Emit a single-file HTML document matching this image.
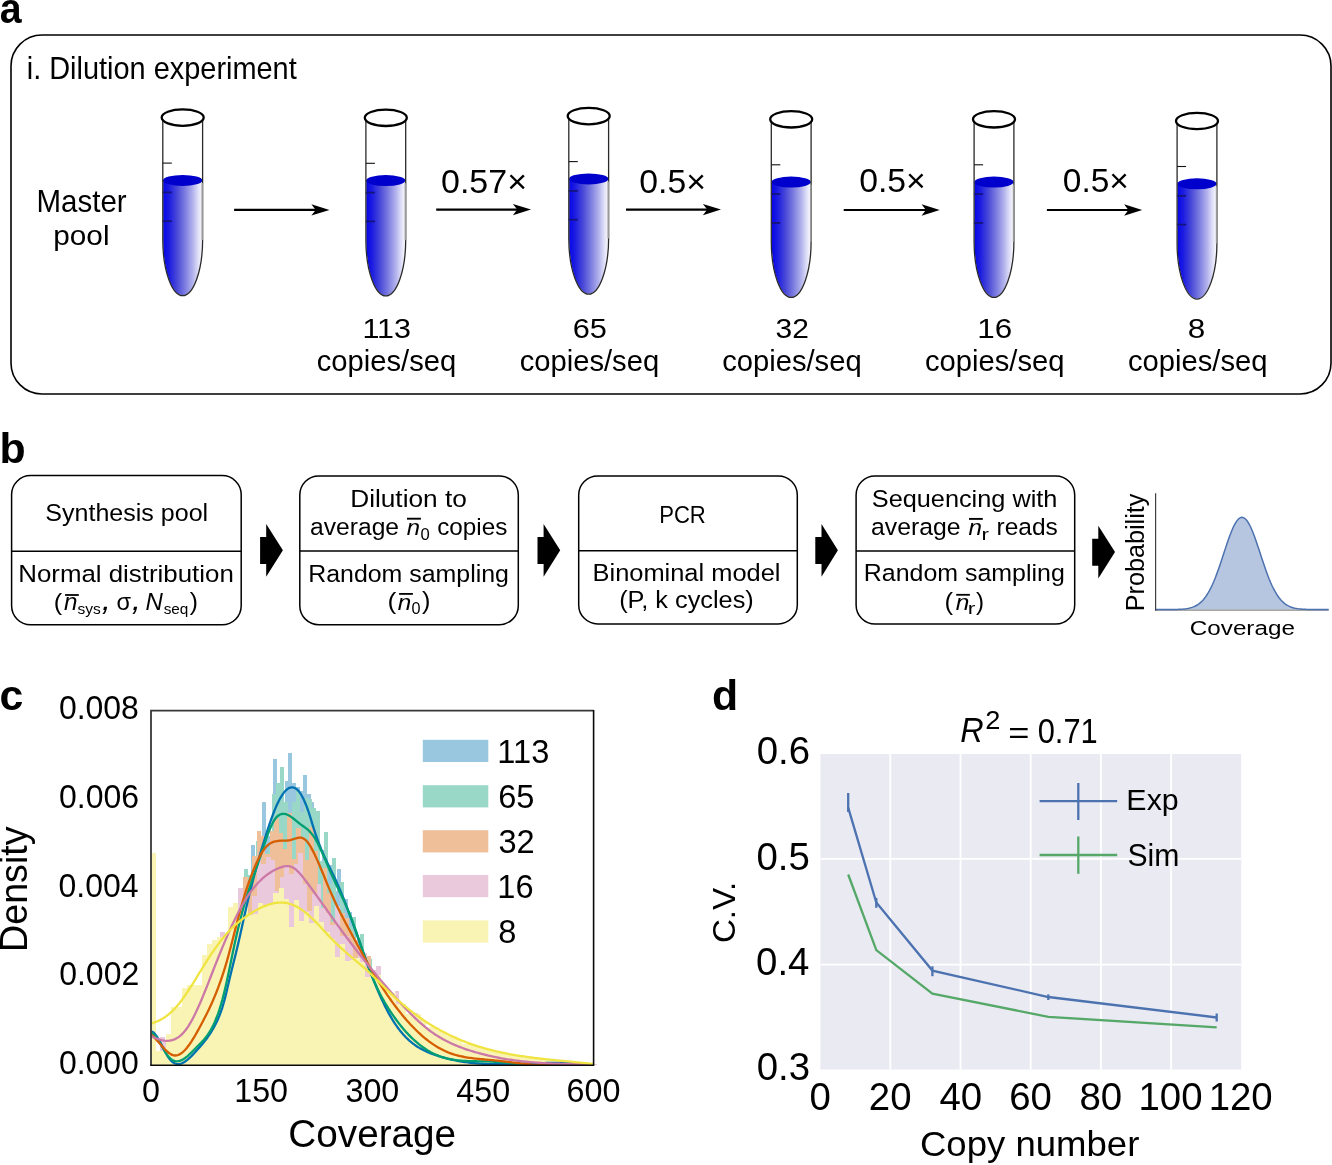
<!DOCTYPE html><html><head><meta charset="utf-8"><title>Figure</title><style>html,body{margin:0;padding:0;background:#fff}svg{display:block;will-change:transform}text{font-family:"Liberation Sans",sans-serif}</style></head><body>
<svg width="1332" height="1165" viewBox="0 0 1332 1165">
<defs>
<linearGradient id="liq" x1="0" x2="1" y1="0" y2="0">
<stop offset="0" stop-color="#0606ea"/><stop offset="0.15" stop-color="#1c1ce2"/><stop offset="0.35" stop-color="#4848d8"/>
<stop offset="0.55" stop-color="#7a7ae0"/><stop offset="0.75" stop-color="#b0b0ec"/><stop offset="0.9" stop-color="#e0e0f8"/><stop offset="1" stop-color="#fafaff"/>
</linearGradient></defs>
<rect width="1332" height="1165" fill="#fff"/>
<text transform="translate(-0.18,22.98) scale(1,1.099)" font-size="39.25" font-weight="bold">a</text>
<rect x="11" y="35" width="1320" height="359" rx="31" ry="31" fill="none" stroke="#000" stroke-width="1.6"/>
<text transform="translate(26.72,78.6) scale(1,1.062)" font-size="28.93" fill="#000">i. Dilution experiment</text>
<text transform="translate(36.54,211.8) scale(1,1.056)" font-size="29.49" fill="#000">Master</text>
<text transform="translate(53.26,244.8) scale(1,0.954)" font-size="29.77" fill="#000">pool</text>
<path d="M163.2,180.5 L163.2,240 C163.2,271 172.2,295.3 182.7,295.3 C193.2,295.3 202.2,271 202.2,240 L202.2,180.5 Z" fill="url(#liq)"/>
<ellipse cx="182.7" cy="180.4" rx="19.7" ry="5.5" fill="#0000cc"/>
<path d="M162.8,118 L162.8,240 C162.8,271 172.2,295.7 182.7,295.7 C193.2,295.7 202.6,271 202.6,240 L202.6,118" fill="none" stroke="#2a2a2a" stroke-width="1.3"/>
<line x1="202.3" y1="183" x2="202.3" y2="240" stroke="#9a9a9a" stroke-width="1.6"/>
<line x1="162.8" y1="163.1" x2="171.8" y2="163.1" stroke="#111" stroke-width="1.1"/>
<line x1="162.8" y1="192.4" x2="171.8" y2="192.4" stroke="#14147a" stroke-width="1.8"/>
<line x1="162.8" y1="221.2" x2="171.8" y2="221.2" stroke="#14147a" stroke-width="1.8"/>
<ellipse cx="182.7" cy="117.6" rx="21.0" ry="8.2" fill="#fff" stroke="#000" stroke-width="2.3"/>
<path d="M366.3,180.7 L366.3,240.2 C366.3,271.2 375.3,295.5 385.8,295.5 C396.3,295.5 405.3,271.2 405.3,240.2 L405.3,180.7 Z" fill="url(#liq)"/>
<ellipse cx="385.8" cy="180.6" rx="19.7" ry="5.5" fill="#0000cc"/>
<path d="M365.9,118.2 L365.9,240.2 C365.9,271.2 375.3,295.9 385.8,295.9 C396.3,295.9 405.7,271.2 405.7,240.2 L405.7,118.2" fill="none" stroke="#2a2a2a" stroke-width="1.3"/>
<line x1="405.4" y1="183.2" x2="405.4" y2="240.2" stroke="#9a9a9a" stroke-width="1.6"/>
<line x1="365.9" y1="163.3" x2="374.9" y2="163.3" stroke="#111" stroke-width="1.1"/>
<line x1="365.9" y1="192.6" x2="374.9" y2="192.6" stroke="#14147a" stroke-width="1.8"/>
<line x1="365.9" y1="221.4" x2="374.9" y2="221.4" stroke="#14147a" stroke-width="1.8"/>
<ellipse cx="385.8" cy="117.8" rx="21.0" ry="8.2" fill="#fff" stroke="#000" stroke-width="2.3"/>
<path d="M569.2,179 L569.2,238.5 C569.2,269.5 578.2,293.8 588.7,293.8 C599.2,293.8 608.2,269.5 608.2,238.5 L608.2,179 Z" fill="url(#liq)"/>
<ellipse cx="588.7" cy="178.9" rx="19.7" ry="5.5" fill="#0000cc"/>
<path d="M568.8,116.5 L568.8,238.5 C568.8,269.5 578.2,294.2 588.7,294.2 C599.2,294.2 608.6,269.5 608.6,238.5 L608.6,116.5" fill="none" stroke="#2a2a2a" stroke-width="1.3"/>
<line x1="608.3" y1="181.5" x2="608.3" y2="238.5" stroke="#9a9a9a" stroke-width="1.6"/>
<line x1="568.8" y1="161.6" x2="577.8" y2="161.6" stroke="#111" stroke-width="1.1"/>
<line x1="568.8" y1="190.9" x2="577.8" y2="190.9" stroke="#14147a" stroke-width="1.8"/>
<line x1="568.8" y1="219.7" x2="577.8" y2="219.7" stroke="#14147a" stroke-width="1.8"/>
<ellipse cx="588.7" cy="116.1" rx="21.0" ry="8.2" fill="#fff" stroke="#000" stroke-width="2.3"/>
<path d="M771.7,182.2 L771.7,241.7 C771.7,272.7 780.7,297 791.2,297 C801.7,297 810.7,272.7 810.7,241.7 L810.7,182.2 Z" fill="url(#liq)"/>
<ellipse cx="791.2" cy="182.1" rx="19.7" ry="5.5" fill="#0000cc"/>
<path d="M771.3,119.7 L771.3,241.7 C771.3,272.7 780.7,297.4 791.2,297.4 C801.7,297.4 811.1,272.7 811.1,241.7 L811.1,119.7" fill="none" stroke="#2a2a2a" stroke-width="1.3"/>
<line x1="810.8" y1="184.7" x2="810.8" y2="241.7" stroke="#9a9a9a" stroke-width="1.6"/>
<line x1="771.3" y1="164.8" x2="780.3" y2="164.8" stroke="#111" stroke-width="1.1"/>
<line x1="771.3" y1="194.1" x2="780.3" y2="194.1" stroke="#14147a" stroke-width="1.8"/>
<line x1="771.3" y1="222.9" x2="780.3" y2="222.9" stroke="#14147a" stroke-width="1.8"/>
<ellipse cx="791.2" cy="119.3" rx="21.0" ry="8.2" fill="#fff" stroke="#000" stroke-width="2.3"/>
<path d="M974.5,182.2 L974.5,241.7 C974.5,272.7 983.5,297 994,297 C1004.5,297 1013.5,272.7 1013.5,241.7 L1013.5,182.2 Z" fill="url(#liq)"/>
<ellipse cx="994" cy="182.1" rx="19.7" ry="5.5" fill="#0000cc"/>
<path d="M974.1,119.7 L974.1,241.7 C974.1,272.7 983.5,297.4 994,297.4 C1004.5,297.4 1013.9,272.7 1013.9,241.7 L1013.9,119.7" fill="none" stroke="#2a2a2a" stroke-width="1.3"/>
<line x1="1013.6" y1="184.7" x2="1013.6" y2="241.7" stroke="#9a9a9a" stroke-width="1.6"/>
<line x1="974.1" y1="164.8" x2="983.1" y2="164.8" stroke="#111" stroke-width="1.1"/>
<line x1="974.1" y1="194.1" x2="983.1" y2="194.1" stroke="#14147a" stroke-width="1.8"/>
<line x1="974.1" y1="222.9" x2="983.1" y2="222.9" stroke="#14147a" stroke-width="1.8"/>
<ellipse cx="994" cy="119.3" rx="21.0" ry="8.2" fill="#fff" stroke="#000" stroke-width="2.3"/>
<path d="M1177.5,183.9 L1177.5,243.4 C1177.5,274.4 1186.5,298.7 1197,298.7 C1207.5,298.7 1216.5,274.4 1216.5,243.4 L1216.5,183.9 Z" fill="url(#liq)"/>
<ellipse cx="1197" cy="183.8" rx="19.7" ry="5.5" fill="#0000cc"/>
<path d="M1177.1,121.4 L1177.1,243.4 C1177.1,274.4 1186.5,299.1 1197,299.1 C1207.5,299.1 1216.9,274.4 1216.9,243.4 L1216.9,121.4" fill="none" stroke="#2a2a2a" stroke-width="1.3"/>
<line x1="1216.6" y1="186.4" x2="1216.6" y2="243.4" stroke="#9a9a9a" stroke-width="1.6"/>
<line x1="1177.1" y1="166.5" x2="1186.1" y2="166.5" stroke="#111" stroke-width="1.1"/>
<line x1="1177.1" y1="195.8" x2="1186.1" y2="195.8" stroke="#14147a" stroke-width="1.8"/>
<line x1="1177.1" y1="224.6" x2="1186.1" y2="224.6" stroke="#14147a" stroke-width="1.8"/>
<ellipse cx="1197" cy="121" rx="21.0" ry="8.2" fill="#fff" stroke="#000" stroke-width="2.3"/>
<line x1="234.1" y1="209.9" x2="316.5" y2="209.9" stroke="#000" stroke-width="2.2"/>
<path d="M329.5,209.9 L311.4,204.2 L315.7,209.9 L311.4,215.6 Z" fill="#000"/>
<line x1="436.2" y1="209.6" x2="518" y2="209.6" stroke="#000" stroke-width="2.2"/>
<path d="M531,209.6 L512.9,203.9 L517.2,209.6 L512.9,215.3 Z" fill="#000"/>
<line x1="626" y1="209.6" x2="708" y2="209.6" stroke="#000" stroke-width="2.2"/>
<path d="M721,209.6 L702.9,203.9 L707.2,209.6 L702.9,215.3 Z" fill="#000"/>
<line x1="843.7" y1="210" x2="926.7" y2="210" stroke="#000" stroke-width="2.2"/>
<path d="M939.7,210 L921.6,204.3 L925.9,210 L921.6,215.7 Z" fill="#000"/>
<line x1="1046.9" y1="210" x2="1129.2" y2="210" stroke="#000" stroke-width="2.2"/>
<path d="M1142.2,210 L1124.1,204.3 L1128.4,210 L1124.1,215.7 Z" fill="#000"/>
<text transform="translate(441.04,192.7) scale(1,0.997)" font-size="33.97" fill="#000">0.57×</text>
<text transform="translate(639.25,192.7) scale(1,1.002)" font-size="33.78" fill="#000">0.5×</text>
<text transform="translate(859.15,192.2) scale(1,1.002)" font-size="33.78" fill="#000">0.5×</text>
<text transform="translate(1062.86,192.1) scale(1,1.012)" font-size="33.46" fill="#000">0.5×</text>
<text transform="translate(362.41,337.96) scale(1,0.907)" font-size="30.51">113</text>
<text transform="translate(316.78,370.6) scale(1,0.989)" font-size="29.20" fill="#000">copies/seq</text>
<text transform="translate(572.66,337.96) scale(1,0.898)" font-size="30.78">65</text>
<text transform="translate(519.68,370.6) scale(1,0.989)" font-size="29.20" fill="#000">copies/seq</text>
<text transform="translate(775.6,337.96) scale(1,0.922)" font-size="30.00">32</text>
<text transform="translate(722.18,370.6) scale(1,0.989)" font-size="29.20" fill="#000">copies/seq</text>
<text transform="translate(977.24,337.96) scale(1,0.880)" font-size="31.41">16</text>
<text transform="translate(924.98,370.6) scale(1,0.989)" font-size="29.20" fill="#000">copies/seq</text>
<text transform="translate(1187.68,337.96) scale(1,0.878)" font-size="31.49">8</text>
<text transform="translate(1127.98,370.6) scale(1,0.989)" font-size="29.20" fill="#000">copies/seq</text>
<text transform="translate(-0.58,462.8) scale(1,1.000)" font-size="42.80" font-weight="bold" fill="#000">b</text>
<rect x="11.6" y="475.6" width="229.6" height="149.2" rx="19" ry="19" fill="none" stroke="#000" stroke-width="1.5"/>
<line x1="11.6" y1="551.3" x2="241.2" y2="551.3" stroke="#000" stroke-width="1.5"/>
<rect x="299.8" y="475.9" width="218.5" height="148.8" rx="19" ry="19" fill="none" stroke="#000" stroke-width="1.5"/>
<line x1="299.8" y1="551.1" x2="518.3" y2="551.1" stroke="#000" stroke-width="1.5"/>
<rect x="578.7" y="476" width="218.6" height="147.9" rx="19" ry="19" fill="none" stroke="#000" stroke-width="1.5"/>
<line x1="578.7" y1="550.8" x2="797.3" y2="550.8" stroke="#000" stroke-width="1.5"/>
<rect x="856.1" y="476" width="218.6" height="148" rx="19" ry="19" fill="none" stroke="#000" stroke-width="1.5"/>
<line x1="856.1" y1="551" x2="1074.7" y2="551" stroke="#000" stroke-width="1.5"/>
<path d="M260.1,537 L266.2,537 L266.2,523.9 L282.9,550.3 L266.2,576.7 L266.2,564 L260.1,564 Z" fill="#000"/>
<path d="M537.5,537 L543.6,537 L543.6,523.9 L560.2,550.3 L543.6,576.7 L543.6,564 L537.5,564 Z" fill="#000"/>
<path d="M815.3,537 L821.5,537 L821.5,523.9 L837.9,550.3 L821.5,576.7 L821.5,564 L815.3,564 Z" fill="#000"/>
<path d="M1092.2,538.8 L1098.3,538.8 L1098.3,525.7 L1115,552.1 L1098.3,578.5 L1098.3,565.8 L1092.2,565.8 Z" fill="#000"/>
<text transform="translate(45.37,521.1) scale(1,0.955)" font-size="25.04" fill="#000">Synthesis pool</text>
<text transform="translate(18.23,582.2) scale(1,0.924)" font-size="25.87" fill="#000">Normal distribution</text>
<text transform="translate(350.2,507.1) scale(1,0.911)" font-size="26.24" fill="#000">Dilution to</text>
<text transform="translate(308.21,581.8) scale(1,0.960)" font-size="24.91" fill="#000">Random sampling</text>
<text transform="translate(659.23,523) scale(1,1.084)" font-size="22.07" fill="#000">PCR</text>
<text transform="translate(592.57,581) scale(1,0.941)" font-size="25.42" fill="#000">Binominal model</text>
<text transform="translate(619.18,608.3) scale(1,0.944)" font-size="25.33" fill="#000">(P, k cycles)</text>
<text transform="translate(871.76,507) scale(1,0.945)" font-size="25.31" fill="#000">Sequencing with</text>
<text transform="translate(863.8,581) scale(1,0.958)" font-size="24.95" fill="#000">Random sampling</text>
<text transform="translate(53.68,609.88) scale(1,0.948)" font-size="25.28">(</text>
<text transform="translate(64.04,609.92) scale(1,0.971)" font-size="24.24" font-style="italic">n</text>
<line x1="65.1" y1="595" x2="78.8" y2="595" stroke="#000" stroke-width="1.8"/>
<text transform="translate(77.43,613.95) scale(1,0.957)" font-size="15.54">sys</text>
<text transform="translate(101.63,610.1) scale(1,0.907)" font-size="33.57" font-style="italic">,</text>
<text transform="translate(116.46,609.88) scale(1,0.991)" font-size="23.57">σ</text>
<text transform="translate(131.63,610) scale(1,0.881)" font-size="33.57" font-style="italic">,</text>
<text transform="translate(145.38,609.72) scale(1,1.001)" font-size="24.06" font-style="italic">N</text>
<text transform="translate(163.64,613.65) scale(1,0.969)" font-size="15.38">seq</text>
<text transform="translate(189.85,609.68) scale(1,0.935)" font-size="24.62">)</text>
<text transform="translate(310.01,534.8) scale(1,0.972)" font-size="24.65" fill="#000">average</text>
<text transform="translate(406.64,534.91) scale(1,0.941)" font-size="23.84" font-style="italic">n</text>
<line x1="407" y1="518.7" x2="420.9" y2="518.7" stroke="#000" stroke-width="1.9"/>
<text transform="translate(420.43,539.62) scale(1,0.964)" font-size="16.63">0</text>
<text transform="translate(437.23,534.8) scale(1,0.988)" font-size="24.26" fill="#000">copies</text>
<text transform="translate(387.42,609.26) scale(1,0.875)" font-size="26.42">(</text>
<text transform="translate(397.64,609.91) scale(1,0.948)" font-size="24.24" font-style="italic">n</text>
<line x1="399.1" y1="593.9" x2="412.9" y2="593.9" stroke="#000" stroke-width="1.8"/>
<text transform="translate(411.55,614.32) scale(1,0.971)" font-size="16.21">0</text>
<text transform="translate(422.05,609.26) scale(1,0.911)" font-size="25.38">)</text>
<text transform="translate(871.01,534.5) scale(1,0.968)" font-size="24.76" fill="#000">average</text>
<text transform="translate(968.44,534.61) scale(1,0.948)" font-size="24.24" font-style="italic">n</text>
<line x1="969" y1="518.9" x2="982.8" y2="518.9" stroke="#000" stroke-width="1.9"/>
<text transform="translate(981.54,539.58) scale(1,0.709)" font-size="22.40">r</text>
<text transform="translate(996.5,534.5) scale(1,0.976)" font-size="24.54" fill="#000">reads</text>
<text transform="translate(944.46,609.88) scale(1,0.934)" font-size="25.66">(</text>
<text transform="translate(955.63,609.91) scale(1,0.941)" font-size="24.44" font-style="italic">n</text>
<line x1="956.2" y1="594.8" x2="969.9" y2="594.8" stroke="#000" stroke-width="1.8"/>
<text transform="translate(967.72,614.48) scale(1,0.689)" font-size="22.80">r</text>
<text transform="translate(975.96,609.88) scale(1,0.990)" font-size="24.23">)</text>
<polygon points="1155.6,609.6 1155.6,609.6 1157.05,609.6 1158.51,609.6 1159.96,609.6 1161.42,609.59 1162.87,609.59 1164.33,609.59 1165.78,609.58 1167.24,609.58 1168.69,609.57 1170.15,609.56 1171.6,609.54 1173.06,609.52 1174.51,609.5 1175.96,609.46 1177.42,609.42 1178.87,609.36 1180.33,609.28 1181.78,609.19 1183.24,609.07 1184.69,608.91 1186.15,608.72 1187.6,608.49 1189.06,608.2 1190.51,607.84 1191.97,607.4 1193.42,606.88 1194.87,606.25 1196.33,605.5 1197.78,604.62 1199.24,603.58 1200.69,602.37 1202.15,600.98 1203.6,599.39 1205.06,597.57 1206.51,595.52 1207.97,593.23 1209.42,590.68 1210.88,587.87 1212.33,584.8 1213.78,581.48 1215.24,577.91 1216.69,574.12 1218.15,570.12 1219.6,565.95 1221.06,561.65 1222.51,557.24 1223.97,552.8 1225.42,548.37 1226.88,544 1228.33,539.77 1229.79,535.73 1231.24,531.95 1232.69,528.49 1234.15,525.41 1235.6,522.77 1237.06,520.6 1238.51,518.96 1239.97,517.87 1241.42,517.35 1242.88,517.41 1244.33,518.05 1245.79,519.25 1247.24,521.01 1248.7,523.28 1250.15,526.02 1251.61,529.18 1253.06,532.71 1254.51,536.54 1255.97,540.63 1257.42,544.89 1258.88,549.28 1260.33,553.72 1261.79,558.16 1263.24,562.54 1264.7,566.83 1266.15,570.96 1267.61,574.92 1269.06,578.67 1270.52,582.19 1271.97,585.46 1273.42,588.47 1274.88,591.22 1276.33,593.72 1277.79,595.96 1279.24,597.96 1280.7,599.73 1282.15,601.29 1283.61,602.64 1285.06,603.81 1286.52,604.81 1287.97,605.67 1289.43,606.39 1290.88,606.99 1292.33,607.5 1293.79,607.92 1295.24,608.26 1296.7,608.54 1298.15,608.77 1299.61,608.95 1301.06,609.09 1302.52,609.21 1303.97,609.3 1305.43,609.37 1306.88,609.43 1308.34,609.47 1309.79,609.5 1311.24,609.53 1312.7,609.55 1314.15,609.56 1315.61,609.57 1317.06,609.58 1318.52,609.59 1319.97,609.59 1321.43,609.59 1322.88,609.59 1324.34,609.6 1325.79,609.6 1327.25,609.6 1328.7,609.6 1328.7,609.6" fill="#b7c6e0"/>
<line x1="1155.6" y1="610.2" x2="1328.7" y2="610.2" stroke="#8a8a8a" stroke-width="1.3"/>
<polyline points="1155.6,609.6 1157.05,609.6 1158.51,609.6 1159.96,609.6 1161.42,609.59 1162.87,609.59 1164.33,609.59 1165.78,609.58 1167.24,609.58 1168.69,609.57 1170.15,609.56 1171.6,609.54 1173.06,609.52 1174.51,609.5 1175.96,609.46 1177.42,609.42 1178.87,609.36 1180.33,609.28 1181.78,609.19 1183.24,609.07 1184.69,608.91 1186.15,608.72 1187.6,608.49 1189.06,608.2 1190.51,607.84 1191.97,607.4 1193.42,606.88 1194.87,606.25 1196.33,605.5 1197.78,604.62 1199.24,603.58 1200.69,602.37 1202.15,600.98 1203.6,599.39 1205.06,597.57 1206.51,595.52 1207.97,593.23 1209.42,590.68 1210.88,587.87 1212.33,584.8 1213.78,581.48 1215.24,577.91 1216.69,574.12 1218.15,570.12 1219.6,565.95 1221.06,561.65 1222.51,557.24 1223.97,552.8 1225.42,548.37 1226.88,544 1228.33,539.77 1229.79,535.73 1231.24,531.95 1232.69,528.49 1234.15,525.41 1235.6,522.77 1237.06,520.6 1238.51,518.96 1239.97,517.87 1241.42,517.35 1242.88,517.41 1244.33,518.05 1245.79,519.25 1247.24,521.01 1248.7,523.28 1250.15,526.02 1251.61,529.18 1253.06,532.71 1254.51,536.54 1255.97,540.63 1257.42,544.89 1258.88,549.28 1260.33,553.72 1261.79,558.16 1263.24,562.54 1264.7,566.83 1266.15,570.96 1267.61,574.92 1269.06,578.67 1270.52,582.19 1271.97,585.46 1273.42,588.47 1274.88,591.22 1276.33,593.72 1277.79,595.96 1279.24,597.96 1280.7,599.73 1282.15,601.29 1283.61,602.64 1285.06,603.81 1286.52,604.81 1287.97,605.67 1289.43,606.39 1290.88,606.99 1292.33,607.5 1293.79,607.92 1295.24,608.26 1296.7,608.54 1298.15,608.77 1299.61,608.95 1301.06,609.09 1302.52,609.21 1303.97,609.3 1305.43,609.37 1306.88,609.43 1308.34,609.47 1309.79,609.5 1311.24,609.53 1312.7,609.55 1314.15,609.56 1315.61,609.57 1317.06,609.58 1318.52,609.59 1319.97,609.59 1321.43,609.59 1322.88,609.59 1324.34,609.6 1325.79,609.6 1327.25,609.6 1328.7,609.6" fill="none" stroke="#4c72b0" stroke-width="1.5"/>
<line x1="1155.6" y1="493.2" x2="1155.6" y2="610.8" stroke="#404040" stroke-width="1.2"/>
<text transform="translate(1143.8,609.3) rotate(-90) scale(1,0.988)" x="-2.02" font-size="25.23">Probability</text>
<text transform="translate(1189.79,634.8) scale(1,0.855)" font-size="24.25" fill="#000">Coverage</text>
<text transform="translate(-0.41,710) scale(1,1.000)" font-size="42.80" font-weight="bold" fill="#000">c</text>
<g shape-rendering="crispEdges">
<path d="M151,1057H154.03V1065H151zM154.03,1057H157.76V1065H154.03zM157.76,1057H161.49V1065H157.76zM161.49,1049.3H165.22V1065H161.49zM165.22,1055.72H168.95V1065H165.22zM168.95,1060.71H172.68V1065H168.95zM172.68,1063.2H176.41V1065H172.68zM176.41,1064.09H180.14V1065H176.41zM180.14,1063.16H183.87V1065H180.14zM183.87,1061.72H187.6V1065H183.87zM187.6,1057.21H191.33V1065H187.6zM191.33,1052.84H195.06V1065H191.33zM195.06,1049.54H198.79V1065H195.06zM198.79,1046.4H202.52V1065H198.79zM202.52,1042.47H206.25V1065H202.52zM206.25,1035.79H209.98V1065H206.25zM209.98,1028.95H213.71V1065H209.98zM213.71,1025.25H217.44V1065H213.71zM217.44,1017.15H221.17V1065H217.44zM221.17,1002.66H224.9V1065H221.17zM224.9,996.77H228.63V1065H224.9zM228.63,986.71H232.36V1065H228.63zM232.36,957.79H236.09V1065H232.36zM236.09,952.31H239.82V1065H236.09zM239.82,950.4H243.55V1065H239.82zM243.55,922.94H247.28V1065H243.55zM247.28,903.56H251.01V1065H247.28zM251.01,845H254.74V1065H251.01zM254.74,857.72H258.47V1065H254.74zM258.47,855.28H262.2V1065H258.47zM262.2,802H265.93V1065H262.2zM265.93,836.27H269.66V1065H265.93zM269.66,835.63H273.39V1065H269.66zM273.39,759H277.12V1065H273.39zM277.12,788.47H280.85V1065H277.12zM280.85,803.65H284.58V1065H280.85zM284.58,781.05H288.31V1065H284.58zM288.31,753.2H292.04V1065H288.31zM292.04,783.1H295.77V1065H292.04zM295.77,786.7H299.5V1065H295.77zM299.5,790.61H303.23V1065H299.5zM303.23,775.1H306.96V1065H303.23zM306.96,793.53H310.69V1065H306.96zM310.69,802H314.42V1065H310.69zM314.42,850.76H318.15V1065H314.42zM318.15,863.18H321.88V1065H318.15zM321.88,850.41H325.61V1065H321.88zM325.61,863.29H329.34V1065H325.61zM329.34,864.79H333.07V1065H329.34zM333.07,891.46H336.8V1065H333.07zM336.8,869.16H340.53V1065H336.8zM340.53,886.53H344.26V1065H340.53zM344.26,899.04H347.99V1065H344.26zM347.99,912.1H351.72V1065H347.99zM351.72,916.5H355.45V1065H351.72zM355.45,951.01H359.18V1065H355.45zM359.18,942.06H362.91V1065H359.18zM362.91,952.95H366.64V1065H362.91zM366.64,981.84H370.37V1065H366.64zM370.37,975.38H374.1V1065H370.37zM374.1,988.51H377.83V1065H374.1zM377.83,991.2H381.56V1065H377.83zM381.56,1005.7H385.29V1065H381.56zM385.29,1010.98H389.02V1065H385.29zM389.02,1010.82H392.75V1065H389.02zM392.75,1026.46H396.48V1065H392.75zM396.48,1027.1H400.21V1065H396.48zM400.21,1033.73H403.94V1065H400.21zM403.94,1036.42H407.67V1065H403.94zM407.67,1042.01H411.4V1065H407.67zM411.4,1042.22H415.13V1065H411.4zM415.13,1045.75H418.86V1065H415.13zM418.86,1049.1H422.59V1065H418.86zM422.59,1050.08H426.32V1065H422.59zM426.32,1051.2H430.05V1065H426.32zM430.05,1052.35H433.78V1065H430.05zM433.78,1056.47H437.51V1065H433.78zM437.51,1055.84H441.24V1065H437.51zM441.24,1057.27H444.97V1065H441.24zM444.97,1058.59H448.7V1065H444.97zM448.7,1059.89H452.43V1065H448.7zM452.43,1059.76H456.16V1065H452.43zM456.16,1060.64H459.89V1065H456.16zM459.89,1061.44H463.62V1065H459.89zM463.62,1061.85H467.35V1065H463.62zM467.35,1062.92H471.08V1065H467.35zM471.08,1063.07H474.81V1065H471.08zM474.81,1063.54H478.54V1065H474.81zM478.54,1063.61H482.27V1065H478.54zM482.27,1063.72H486V1065H482.27zM486,1063.89H489.73V1065H486zM489.73,1064.26H493.46V1065H489.73zM493.46,1064.25H497.19V1065H493.46zM497.19,1064.2H500.92V1065H497.19zM500.92,1064.14H504.65V1065H500.92zM504.65,1064.18H508.38V1065H504.65zM508.38,1064.19H512.11V1065H508.38zM512.11,1064.03H515.84V1065H512.11zM515.84,1063.95H519.57V1065H515.84zM519.57,1063.85H523.3V1065H519.57zM523.3,1063.54H527.03V1065H523.3zM527.03,1063.53H530.76V1065H527.03zM530.76,1063.41H534.49V1065H530.76zM534.49,1063.33H538.22V1065H534.49zM538.22,1063.23H541.95V1065H538.22zM541.95,1063.28H545.68V1065H541.95zM545.68,1063.07H549.41V1065H545.68zM549.41,1062.73H553.14V1065H549.41zM553.14,1062.92H556.87V1065H553.14zM556.87,1063.12H560.6V1065H556.87zM560.6,1062.67H564.33V1065H560.6zM564.33,1062.87H568.06V1065H564.33zM568.06,1062.78H571.79V1065H568.06zM571.79,1063.2H575.52V1065H571.79zM575.52,1063.47H579.25V1065H575.52zM579.25,1063.83H582.98V1065H579.25zM582.98,1063.89H586.71V1065H582.98zM586.71,1064.3H590.44V1065H586.71z" fill="#99c7e0"/>
<path d="M151,1057H152.2V1065H151zM152.2,1057H156.2V1065H152.2zM156.2,1057H160.2V1065H156.2zM160.2,1045.28H164.2V1065H160.2zM164.2,1054.67H168.2V1065H164.2zM168.2,1058.84H172.2V1065H168.2zM172.2,1060.34H176.2V1065H172.2zM176.2,1061.49H180.2V1065H176.2zM180.2,1059.15H184.2V1065H180.2zM184.2,1058.01H188.2V1065H184.2zM188.2,1052.15H192.2V1065H188.2zM192.2,1053.27H196.2V1065H192.2zM196.2,1049.23H200.2V1065H196.2zM200.2,1038.52H204.2V1065H200.2zM204.2,1040.27H208.2V1065H204.2zM208.2,1026.5H212.2V1065H208.2zM212.2,1024.82H216.2V1065H212.2zM216.2,1012.2H220.2V1065H216.2zM220.2,991.88H224.2V1065H220.2zM224.2,984.2H228.2V1065H224.2zM228.2,955.46H232.2V1065H228.2zM232.2,961.34H236.2V1065H232.2zM236.2,922.46H240.2V1065H236.2zM240.2,929.62H244.2V1065H240.2zM244.2,869H248.2V1065H244.2zM248.2,875.46H252.2V1065H248.2zM252.2,890.45H256.2V1065H252.2zM256.2,840.7H260.2V1065H256.2zM260.2,872.84H264.2V1065H260.2zM264.2,853.24H268.2V1065H264.2zM268.2,847.9H272.2V1065H268.2zM272.2,794.3H276.2V1065H272.2zM276.2,783.23H280.2V1065H276.2zM280.2,767H284.2V1065H280.2zM284.2,801.83H288.2V1065H284.2zM288.2,848.9H292.2V1065H288.2zM292.2,801.87H296.2V1065H292.2zM296.2,790.92H300.2V1065H296.2zM300.2,811.76H304.2V1065H300.2zM304.2,797.63H308.2V1065H304.2zM308.2,799H312.2V1065H308.2zM312.2,807.52H316.2V1065H312.2zM316.2,811H320.2V1065H316.2zM320.2,860.53H324.2V1065H320.2zM324.2,831.8H328.2V1065H324.2zM328.2,883.58H332.2V1065H328.2zM332.2,857.71H336.2V1065H332.2zM336.2,921.99H340.2V1065H336.2zM340.2,881.78H344.2V1065H340.2zM344.2,927.17H348.2V1065H344.2zM348.2,925.79H352.2V1065H348.2zM352.2,916.99H356.2V1065H352.2zM356.2,941.45H360.2V1065H356.2zM360.2,933.88H364.2V1065H360.2zM364.2,966.24H368.2V1065H364.2zM368.2,959.24H372.2V1065H368.2zM372.2,987.27H376.2V1065H372.2zM376.2,998.42H380.2V1065H376.2zM380.2,991.75H384.2V1065H380.2zM384.2,1011.78H388.2V1065H384.2zM388.2,1004.24H392.2V1065H388.2zM392.2,1020.74H396.2V1065H392.2zM396.2,1023.95H400.2V1065H396.2zM400.2,1027.88H404.2V1065H400.2zM404.2,1032.48H408.2V1065H404.2zM408.2,1035.18H412.2V1065H408.2zM412.2,1043.43H416.2V1065H412.2zM416.2,1041.71H420.2V1065H416.2zM420.2,1048.91H424.2V1065H420.2zM424.2,1050.36H428.2V1065H424.2zM428.2,1051.16H432.2V1065H428.2zM432.2,1055.69H436.2V1065H432.2zM436.2,1055.39H440.2V1065H436.2zM440.2,1056.97H444.2V1065H440.2zM444.2,1057.53H448.2V1065H444.2zM448.2,1060.14H452.2V1065H448.2zM452.2,1060.28H456.2V1065H452.2zM456.2,1060.55H460.2V1065H456.2zM460.2,1060.54H464.2V1065H460.2zM464.2,1061.12H468.2V1065H464.2zM468.2,1061.32H472.2V1065H468.2zM472.2,1061.38H476.2V1065H472.2zM476.2,1061.36H480.2V1065H476.2zM480.2,1061.53H484.2V1065H480.2zM484.2,1060.93H488.2V1065H484.2zM488.2,1061.68H492.2V1065H488.2zM492.2,1061.31H496.2V1065H492.2zM496.2,1062.03H500.2V1065H496.2zM500.2,1062.52H504.2V1065H500.2zM504.2,1062.43H508.2V1065H504.2zM508.2,1063.31H512.2V1065H508.2zM512.2,1063.43H516.2V1065H512.2zM516.2,1064.22H520.2V1065H516.2zM520.2,1064.53H524.2V1065H520.2zM592.2,1064.6H596.2V1065H592.2z" fill="#99d8c7"/>
<path d="M151,1057H155.4V1065H151zM155.4,1057H159.8V1065H155.4zM159.8,1057H164.2V1065H159.8zM164.2,1050.99H168.6V1065H164.2zM168.6,1055.67H173V1065H168.6zM173,1055.33H177.4V1065H173zM177.4,1053.9H181.8V1065H177.4zM181.8,1051.35H186.2V1065H181.8zM186.2,1045.3H190.6V1065H186.2zM190.6,1038.07H195V1065H190.6zM195,1038.99H199.4V1065H195zM199.4,1028.08H203.8V1065H199.4zM203.8,1015.78H208.2V1065H203.8zM208.2,1006.75H212.6V1065H208.2zM212.6,997.56H217V1065H212.6zM217,978.41H221.4V1065H217zM221.4,959.9H225.8V1065H221.4zM225.8,959.97H230.2V1065H225.8zM230.2,933.28H234.6V1065H230.2zM234.6,912.37H239V1065H234.6zM239,897.31H243.4V1065H239zM243.4,877.34H247.8V1065H243.4zM247.8,883.43H252.2V1065H247.8zM252.2,855.57H256.6V1065H252.2zM256.6,831.26H261V1065H256.6zM261,836.24H265.4V1065H261zM265.4,854.34H269.8V1065H265.4zM269.8,830.94H274.2V1065H269.8zM274.2,818.48H278.6V1065H274.2zM278.6,833.15H283V1065H278.6zM283,848.82H287.4V1065H283zM287.4,812.69H291.8V1065H287.4zM291.8,858.95H296.2V1065H291.8zM296.2,827.79H300.6V1065H296.2zM300.6,837.1H305V1065H300.6zM305,860.48H309.4V1065H305zM309.4,827.21H313.8V1065H309.4zM313.8,850.6H318.2V1065H313.8zM318.2,913.83H322.6V1065H318.2zM322.6,868.44H327V1065H322.6zM327,893.36H331.4V1065H327zM331.4,921.57H335.8V1065H331.4zM335.8,915.2H340.2V1065H335.8zM340.2,912.9H344.6V1065H340.2zM344.6,917.57H349V1065H344.6zM349,930.89H353.4V1065H349zM353.4,940.32H357.8V1065H353.4zM357.8,944.79H362.2V1065H357.8zM362.2,958.6H366.6V1065H362.2zM366.6,955.86H371V1065H366.6zM371,971.25H375.4V1065H371zM375.4,977.68H379.8V1065H375.4zM379.8,983.37H384.2V1065H379.8zM384.2,998.92H388.6V1065H384.2zM388.6,1003.07H393V1065H388.6zM393,998.84H397.4V1065H393zM397.4,1010.04H401.8V1065H397.4zM401.8,1017.82H406.2V1065H401.8zM406.2,1020.78H410.6V1065H406.2zM410.6,1028.03H415V1065H410.6zM415,1030.36H419.4V1065H415zM419.4,1036.64H423.8V1065H419.4zM423.8,1038.34H428.2V1065H423.8zM428.2,1044.96H432.6V1065H428.2zM432.6,1043.34H437V1065H432.6zM437,1048.63H441.4V1065H437zM441.4,1054.19H445.8V1065H441.4zM445.8,1052.45H450.2V1065H445.8zM450.2,1054.17H454.6V1065H450.2zM454.6,1055.09H459V1065H454.6zM459,1057.03H463.4V1065H459zM463.4,1056.92H467.8V1065H463.4zM467.8,1056.98H472.2V1065H467.8zM472.2,1059.05H476.6V1065H472.2zM476.6,1058.74H481V1065H476.6zM481,1059.44H485.4V1065H481zM485.4,1059.63H489.8V1065H485.4zM489.8,1060.79H494.2V1065H489.8zM494.2,1060.96H498.6V1065H494.2zM498.6,1060.92H503V1065H498.6zM503,1061.56H507.4V1065H503zM507.4,1061.7H511.8V1065H507.4zM511.8,1062.71H516.2V1065H511.8zM516.2,1063.07H520.6V1065H516.2zM520.6,1063.43H525V1065H520.6zM525,1064.15H529.4V1065H525zM529.4,1064.59H533.8V1065H529.4z" fill="#eebf99"/>
<path d="M151,1057H155.6V1065H151zM155.6,1057H160.2V1065H155.6zM160.2,1037.13H164.8V1065H160.2zM164.8,1041.81H169.4V1065H164.8zM169.4,1040.65H174V1065H169.4zM174,1037.17H178.6V1065H174zM178.6,1031.34H183.2V1065H178.6zM183.2,1032.38H187.8V1065H183.2zM187.8,1021.4H192.4V1065H187.8zM192.4,1016.06H197V1065H192.4zM197,1007.46H201.6V1065H197zM201.6,989.64H206.2V1065H201.6zM206.2,988.66H210.8V1065H206.2zM210.8,978.21H215.4V1065H210.8zM215.4,982.9H220V1065H215.4zM220,932.38H224.6V1065H220zM224.6,936.74H229.2V1065H224.6zM229.2,933.72H233.8V1065H229.2zM233.8,912.02H238.4V1065H233.8zM238.4,887.58H243V1065H238.4zM243,902.09H247.6V1065H243zM247.6,928.14H252.2V1065H247.6zM252.2,896.43H256.8V1065H252.2zM256.8,857.94H261.4V1065H256.8zM261.4,864.19H266V1065H261.4zM266,857.39H270.6V1065H266zM270.6,859.66H275.2V1065H270.6zM275.2,891.43H279.8V1065H275.2zM279.8,876.81H284.4V1065H279.8zM284.4,865.92H289V1065H284.4zM289,873.88H293.6V1065H289zM293.6,864.31H298.2V1065H293.6zM298.2,852.77H302.8V1065H298.2zM302.8,884.27H307.4V1065H302.8zM307.4,910.99H312V1065H307.4zM312,893.75H316.6V1065H312zM316.6,884.26H321.2V1065H316.6zM321.2,907.54H325.8V1065H321.2zM325.8,912.79H330.4V1065H325.8zM330.4,924.92H335V1065H330.4zM335,906.4H339.6V1065H335zM339.6,936.18H344.2V1065H339.6zM344.2,935.53H348.8V1065H344.2zM348.8,943.83H353.4V1065H348.8zM353.4,957.97H358V1065H353.4zM358,946.83H362.6V1065H358zM362.6,952.7H367.2V1065H362.6zM367.2,971.06H371.8V1065H367.2zM371.8,969.57H376.4V1065H371.8zM376.4,966.44H381V1065H376.4zM381,989.43H385.6V1065H381zM385.6,995.36H390.2V1065H385.6zM390.2,996.05H394.8V1065H390.2zM394.8,990.6H399.4V1065H394.8zM399.4,1004.02H404V1065H399.4zM404,1016.04H408.6V1065H404zM408.6,1017.87H413.2V1065H408.6zM413.2,1013.04H417.8V1065H413.2zM417.8,1019.69H422.4V1065H417.8zM422.4,1034.17H427V1065H422.4zM427,1030.56H431.6V1065H427zM431.6,1035.92H436.2V1065H431.6zM436.2,1032.89H440.8V1065H436.2zM440.8,1041.11H445.4V1065H440.8zM445.4,1042.02H450V1065H445.4zM450,1042.48H454.6V1065H450zM454.6,1043.39H459.2V1065H454.6zM459.2,1047.81H463.8V1065H459.2zM463.8,1049.49H468.4V1065H463.8zM468.4,1052.04H473V1065H468.4zM473,1050.5H477.6V1065H473zM477.6,1054.05H482.2V1065H477.6zM482.2,1055.6H486.8V1065H482.2zM486.8,1056.12H491.4V1065H486.8zM491.4,1055.89H496V1065H491.4zM496,1057.59H500.6V1065H496zM500.6,1058.79H505.2V1065H500.6zM505.2,1059.71H509.8V1065H505.2zM509.8,1059.69H514.4V1065H509.8zM514.4,1060.04H519V1065H514.4zM519,1060.99H523.6V1065H519zM523.6,1061.66H528.2V1065H523.6zM528.2,1062.24H532.8V1065H528.2zM532.8,1062.27H537.4V1065H532.8zM537.4,1062.95H542V1065H537.4zM542,1063.07H546.6V1065H542zM546.6,1063.41H551.2V1065H546.6zM551.2,1063.55H555.8V1065H551.2zM555.8,1063.78H560.4V1065H555.8zM560.4,1064.02H565V1065H560.4zM565,1064H569.6V1065H565zM569.6,1064.03H574.2V1065H569.6zM574.2,1064.22H578.8V1065H574.2zM578.8,1064.18H583.4V1065H578.8zM583.4,1064.22H588V1065H583.4zM588,1064.32H592.6V1065H588zM592.6,1064.12H597.2V1065H592.6z" fill="#ebc9dc"/>
<path d="M151,853.1H156.1V1065H151zM156.1,1051H161.2V1065H156.1zM161.2,1051H166.3V1065H161.2zM166.3,1034H171.4V1065H166.3zM171.4,1006.5H176.5V1065H171.4zM176.5,1006.5H181.6V1065H176.5zM181.6,987.7H186.7V1065H181.6zM186.7,985H191.8V1065H186.7zM191.8,985H196.9V1065H191.8zM196.9,985H202V1065H196.9zM202,955H207.1V1065H202zM207.1,944H212.2V1065H207.1zM212.2,940H217.3V1065H212.2zM217.3,937H222.4V1065H217.3zM222.4,937H227.5V1065H222.4zM227.5,907H232.6V1065H227.5zM232.6,903H237.7V1065H232.6zM237.7,912.13H242.8V1065H237.7zM242.8,906.1H247.9V1065H242.8zM247.9,914.89H253V1065H247.9zM253,913.81H258.1V1065H253zM258.1,902.64H263.2V1065H258.1zM263.2,906.26H268.3V1065H263.2zM268.3,904.2H273.4V1065H268.3zM273.4,892.89H278.5V1065H273.4zM278.5,888.01H283.6V1065H278.5zM283.6,899H288.7V1065H283.6zM288.7,926.72H293.8V1065H288.7zM293.8,900.38H298.9V1065H293.8zM298.9,921H304V1065H298.9zM304,911.65H309.1V1065H304zM309.1,923.19H314.2V1065H309.1zM314.2,905.73H319.3V1065H314.2zM319.3,922.22H324.4V1065H319.3zM324.4,931.5H329.5V1065H324.4zM329.5,938.9H334.6V1065H329.5zM334.6,956.67H339.7V1065H334.6zM339.7,943.83H344.8V1065H339.7zM344.8,961.16H349.9V1065H344.8zM349.9,960.09H355V1065H349.9zM355,957.69H360.1V1065H355zM360.1,962.08H365.2V1065H360.1zM365.2,976.52H370.3V1065H365.2zM370.3,970.91H375.4V1065H370.3zM375.4,974.6H380.5V1065H375.4zM380.5,984.16H385.6V1065H380.5zM385.6,990.32H390.7V1065H385.6zM390.7,992.55H395.8V1065H390.7zM395.8,1004.25H400.9V1065H395.8zM400.9,1003.93H406V1065H400.9zM406,1014.21H411.1V1065H406zM411.1,1015.38H416.2V1065H411.1zM416.2,1014.06H421.3V1065H416.2zM421.3,1020.66H426.4V1065H421.3zM426.4,1027.08H431.5V1065H426.4zM431.5,1026.5H436.6V1065H431.5zM436.6,1030.83H441.7V1065H436.6zM441.7,1031.56H446.8V1065H441.7zM446.8,1036.22H451.9V1065H446.8zM451.9,1035.7H457V1065H451.9zM457,1040.12H462.1V1065H457zM462.1,1044.4H467.2V1065H462.1zM467.2,1043.86H472.3V1065H467.2zM472.3,1045.35H477.4V1065H472.3zM477.4,1045.73H482.5V1065H477.4zM482.5,1048.07H487.6V1065H482.5zM487.6,1049.9H492.7V1065H487.6zM492.7,1051.71H497.8V1065H492.7zM497.8,1051.42H502.9V1065H497.8zM502.9,1052.78H508V1065H502.9zM508,1054.32H513.1V1065H508zM513.1,1054.96H518.2V1065H513.1zM518.2,1056.32H523.3V1065H518.2zM523.3,1058.18H528.4V1065H523.3zM528.4,1057.65H533.5V1065H528.4zM533.5,1057.9H538.6V1065H533.5zM538.6,1058.53H543.7V1065H538.6zM543.7,1059.38H548.8V1065H543.7zM548.8,1059.55H553.9V1065H548.8zM553.9,1060.07H559V1065H553.9zM559,1060.71H564.1V1065H559zM564.1,1061.06H569.2V1065H564.1zM569.2,1061.78H574.3V1065H569.2zM574.3,1062.25H579.4V1065H574.3zM579.4,1062.71H584.5V1065H579.4zM584.5,1063.55H589.6V1065H584.5zM589.6,1063.84H594.7V1065H589.6z" fill="#f9f4b3"/>
</g>
<polyline points="151.5,1031.56 152.98,1032.15 154.45,1033.37 155.93,1035.12 157.41,1037.29 158.89,1039.81 160.36,1042.56 161.84,1045.44 163.32,1048.38 164.8,1051.26 166.27,1053.98 167.75,1056.46 169.23,1058.6 170.7,1060.35 172.18,1061.74 173.66,1062.79 175.14,1063.51 176.61,1063.93 178.09,1064.07 179.57,1063.96 181.05,1063.6 182.52,1063.02 184,1062.25 185.48,1061.29 186.95,1060.18 188.43,1058.94 189.91,1057.58 191.39,1056.12 192.86,1054.59 194.34,1053.01 195.82,1051.39 197.29,1049.76 198.77,1048.12 200.25,1046.45 201.73,1044.74 203.2,1042.97 204.68,1041.13 206.16,1039.21 207.64,1037.2 209.11,1035.07 210.59,1032.82 212.07,1030.43 213.54,1027.9 215.02,1025.19 216.5,1022.3 217.98,1019.14 219.45,1015.64 220.93,1011.71 222.41,1007.29 223.89,1002.27 225.36,996.63 226.84,990.53 228.32,984.18 229.79,977.85 231.27,971.72 232.75,965.78 234.23,959.9 235.7,953.97 237.18,947.87 238.66,941.54 240.14,935.03 241.61,928.41 243.09,921.74 244.57,915.1 246.04,908.57 247.52,902.2 249,896.01 250.48,889.99 251.95,884.13 253.43,878.42 254.91,872.86 256.39,867.44 257.86,862.14 259.34,856.96 260.82,851.9 262.29,846.94 263.77,842.07 265.25,837.29 266.73,832.61 268.2,828.06 269.68,823.65 271.16,819.41 272.64,815.35 274.11,811.5 275.59,807.88 277.07,804.51 278.54,801.41 280.02,798.59 281.5,796.06 282.98,793.84 284.45,791.92 285.93,790.33 287.41,789.06 288.88,788.13 290.36,787.55 291.84,787.32 293.32,787.46 294.79,787.98 296.27,788.87 297.75,790.16 299.23,791.85 300.7,793.96 302.18,796.47 303.66,799.39 305.13,802.7 306.61,806.4 308.09,810.49 309.57,814.94 311.04,819.7 312.52,824.56 314,829.34 315.48,833.87 316.95,838.14 318.43,842.16 319.91,845.97 321.38,849.59 322.86,853.04 324.34,856.36 325.82,859.56 327.29,862.69 328.77,865.75 330.25,868.78 331.73,871.81 333.2,874.85 334.68,877.94 336.16,881.11 337.63,884.37 339.11,887.75 340.59,891.25 342.07,894.85 343.54,898.54 345.02,902.32 346.5,906.18 347.98,910.11 349.45,914.09 350.93,918.13 352.41,922.22 353.88,926.33 355.36,930.48 356.84,934.64 358.32,938.8 359.79,942.97 361.27,947.13 362.75,951.26 364.23,955.38 365.7,959.45 367.18,963.48 368.66,967.46 370.13,971.37 371.61,975.22 373.09,978.98 374.57,982.66 376.04,986.26 377.52,989.76 379,993.18 380.47,996.5 381.95,999.73 383.43,1002.86 384.91,1005.88 386.38,1008.81 387.86,1011.62 389.34,1014.33 390.82,1016.93 392.29,1019.42 393.77,1021.79 395.25,1024.05 396.72,1026.19 398.2,1028.24 399.68,1030.17 401.16,1032.01 402.63,1033.76 404.11,1035.41 405.59,1036.97 407.07,1038.45 408.54,1039.85 410.02,1041.16 411.5,1042.41 412.97,1043.58 414.45,1044.68 415.93,1045.72 417.41,1046.7 418.88,1047.62 420.36,1048.49 421.84,1049.3 423.32,1050.07 424.79,1050.8 426.27,1051.49 427.75,1052.14 429.22,1052.75 430.7,1053.34 432.18,1053.9 433.66,1054.44 435.13,1054.96 436.61,1055.46 438.09,1055.94 439.57,1056.41 441.04,1056.86 442.52,1057.29 444,1057.71 445.47,1058.11 446.95,1058.5 448.43,1058.87 449.91,1059.22 451.38,1059.56 452.86,1059.89 454.34,1060.2 455.82,1060.49 457.29,1060.78 458.77,1061.05 460.25,1061.3 461.72,1061.55 463.2,1061.78 464.68,1062 466.16,1062.2 467.63,1062.4 469.11,1062.58 470.59,1062.75 472.06,1062.91 473.54,1063.06 475.02,1063.2 476.5,1063.33 477.97,1063.45 479.45,1063.56 480.93,1063.66 482.41,1063.75 483.88,1063.83 485.36,1063.91 486.84,1063.97 488.31,1064.03 489.79,1064.08 491.27,1064.12 492.75,1064.16 494.22,1064.19 495.7,1064.21 497.18,1064.22 498.66,1064.23 500.13,1064.24 501.61,1064.24 503.09,1064.23 504.56,1064.22 506.04,1064.2 507.52,1064.18 509,1064.16 510.47,1064.13 511.95,1064.09 513.43,1064.06 514.91,1064.02 516.38,1063.98 517.86,1063.94 519.34,1063.89 520.81,1063.84 522.29,1063.79 523.77,1063.74 525.25,1063.69 526.72,1063.64 528.2,1063.58 529.68,1063.53 531.16,1063.48 532.63,1063.43 534.11,1063.37 535.59,1063.32 537.06,1063.27 538.54,1063.22 540.02,1063.18 541.5,1063.13 542.97,1063.09 544.45,1063.05 545.93,1063.01 547.41,1062.98 548.88,1062.95 550.36,1062.92 551.84,1062.9 553.31,1062.88 554.79,1062.86 556.27,1062.85 557.75,1062.85 559.22,1062.85 560.7,1062.86 562.18,1062.87 563.65,1062.89 565.13,1062.91 566.61,1062.94 568.09,1062.98 569.56,1063.03 571.04,1063.08 572.52,1063.14 574,1063.21 575.47,1063.29 576.95,1063.37 578.43,1063.47 579.9,1063.57 581.38,1063.68 582.86,1063.81 584.34,1063.94 585.81,1064.08 587.29,1064.24 588.77,1064.4 590.25,1064.58 591.72,1064.77 593.2,1064.8" fill="none" stroke="#0072b2" stroke-width="2.3" stroke-linejoin="round"/>
<polyline points="151.5,1033.02 152.98,1033.78 154.45,1035.05 155.93,1036.75 157.41,1038.8 158.89,1041.1 160.36,1043.58 161.84,1046.16 163.32,1048.74 164.8,1051.24 166.27,1053.59 167.75,1055.68 169.23,1057.45 170.7,1058.86 172.18,1059.93 173.66,1060.68 175.14,1061.13 176.61,1061.3 178.09,1061.22 179.57,1060.9 181.05,1060.37 182.52,1059.65 184,1058.76 185.48,1057.71 186.95,1056.54 188.43,1055.27 189.91,1053.9 191.39,1052.48 192.86,1051.01 194.34,1049.52 195.82,1048.03 197.29,1046.55 198.77,1045.09 200.25,1043.61 201.73,1042.07 203.2,1040.46 204.68,1038.75 206.16,1036.9 207.64,1034.89 209.11,1032.69 210.59,1030.26 212.07,1027.59 213.54,1024.64 215.02,1021.39 216.5,1017.8 217.98,1013.85 219.45,1009.51 220.93,1004.74 222.41,999.53 223.89,993.84 225.36,987.66 226.84,981.07 228.32,974.17 229.79,967.08 231.27,959.91 232.75,952.78 234.23,945.82 235.7,939.06 237.18,932.54 238.66,926.25 240.14,920.22 241.61,914.44 243.09,908.95 244.57,903.73 246.04,898.77 247.52,894.03 249,889.47 250.48,885.05 251.95,880.74 253.43,876.49 254.91,872.28 256.39,868.06 257.86,863.8 259.34,859.47 260.82,855.02 262.29,850.52 263.77,846.02 265.25,841.6 266.73,837.32 268.2,833.25 269.68,829.46 271.16,826 272.64,822.96 274.11,820.4 275.59,818.3 277.07,816.64 278.54,815.39 280.02,814.52 281.5,813.99 282.98,813.78 284.45,813.86 285.93,814.18 287.41,814.73 288.88,815.46 290.36,816.35 291.84,817.37 293.32,818.49 294.79,819.66 296.27,820.87 297.75,822.09 299.23,823.27 300.7,824.39 302.18,825.45 303.66,826.5 305.13,827.58 306.61,828.71 308.09,829.96 309.57,831.35 311.04,832.93 312.52,834.75 314,836.83 315.48,839.21 316.95,841.84 318.43,844.7 319.91,847.74 321.38,850.94 322.86,854.27 324.34,857.68 325.82,861.14 327.29,864.62 328.77,868.08 330.25,871.5 331.73,874.83 333.2,878.08 334.68,881.27 336.16,884.42 337.63,887.54 339.11,890.65 340.59,893.77 342.07,896.92 343.54,900.11 345.02,903.37 346.5,906.7 347.98,910.14 349.45,913.69 350.93,917.37 352.41,921.21 353.88,925.18 355.36,929.26 356.84,933.43 358.32,937.67 359.79,941.95 361.27,946.26 362.75,950.56 364.23,954.84 365.7,959.07 367.18,963.23 368.66,967.29 370.13,971.24 371.61,975.04 373.09,978.69 374.57,982.18 376.04,985.51 377.52,988.69 379,991.74 380.47,994.66 381.95,997.46 383.43,1000.15 384.91,1002.73 386.38,1005.21 387.86,1007.61 389.34,1009.92 390.82,1012.16 392.29,1014.33 393.77,1016.45 395.25,1018.51 396.72,1020.51 398.2,1022.46 399.68,1024.35 401.16,1026.19 402.63,1027.98 404.11,1029.71 405.59,1031.39 407.07,1033.02 408.54,1034.59 410.02,1036.12 411.5,1037.59 412.97,1039.01 414.45,1040.37 415.93,1041.69 417.41,1042.96 418.88,1044.18 420.36,1045.34 421.84,1046.46 423.32,1047.53 424.79,1048.55 426.27,1049.53 427.75,1050.46 429.22,1051.33 430.7,1052.17 432.18,1052.95 433.66,1053.69 435.13,1054.39 436.61,1055.04 438.09,1055.64 439.57,1056.21 441.04,1056.73 442.52,1057.22 444,1057.67 445.47,1058.09 446.95,1058.47 448.43,1058.81 449.91,1059.13 451.38,1059.42 452.86,1059.68 454.34,1059.91 455.82,1060.12 457.29,1060.3 458.77,1060.47 460.25,1060.61 461.72,1060.73 463.2,1060.84 464.68,1060.93 466.16,1061.01 467.63,1061.07 469.11,1061.12 470.59,1061.16 472.06,1061.2 473.54,1061.22 475.02,1061.25 476.5,1061.26 477.97,1061.28 479.45,1061.3 480.93,1061.31 482.41,1061.33 483.88,1061.35 485.36,1061.38 486.84,1061.42 488.31,1061.46 489.79,1061.51 491.27,1061.57 492.75,1061.65 494.22,1061.73 495.7,1061.83 497.18,1061.93 498.66,1062.04 500.13,1062.16 501.61,1062.29 503.09,1062.42 504.56,1062.56 506.04,1062.71 507.52,1062.86 509,1063.02 510.47,1063.18 511.95,1063.35 513.43,1063.52 514.91,1063.69 516.38,1063.87 517.86,1064.05 519.34,1064.23 520.81,1064.41 522.29,1064.59 523.77,1064.78 525.25,1064.8 526.72,1064.8 528.2,1064.8 529.68,1064.8 531.16,1064.8 532.63,1064.8 534.11,1064.8 535.59,1064.8 537.06,1064.8 538.54,1064.8 540.02,1064.8 541.5,1064.8 542.97,1064.8 544.45,1064.8 545.93,1064.8 547.41,1064.8 548.88,1064.8 550.36,1064.8 551.84,1064.8 553.31,1064.8 554.79,1064.8 556.27,1064.8 557.75,1064.8 559.22,1064.8 560.7,1064.8 562.18,1064.8 563.65,1064.8 565.13,1064.8 566.61,1064.8 568.09,1064.8 569.56,1064.8 571.04,1064.8 572.52,1064.8 574,1064.8 575.47,1064.8 576.95,1064.8 578.43,1064.8 579.9,1064.8 581.38,1064.8 582.86,1064.8 584.34,1064.8 585.81,1064.8 587.29,1064.8 588.77,1064.8 590.25,1064.8 591.72,1064.8 593.2,1064.8" fill="none" stroke="#009e73" stroke-width="2.3" stroke-linejoin="round"/>
<polyline points="151.5,1034.83 152.98,1036.16 154.45,1037.63 155.93,1039.2 157.41,1040.86 158.89,1042.56 160.36,1044.27 161.84,1045.97 163.32,1047.62 164.8,1049.2 166.27,1050.67 167.75,1052 169.23,1053.16 170.7,1054.12 172.18,1054.85 173.66,1055.32 175.14,1055.49 176.61,1055.38 178.09,1054.99 179.57,1054.34 181.05,1053.45 182.52,1052.32 184,1050.98 185.48,1049.44 186.95,1047.71 188.43,1045.81 189.91,1043.75 191.39,1041.55 192.86,1039.23 194.34,1036.79 195.82,1034.26 197.29,1031.65 198.77,1028.98 200.25,1026.25 201.73,1023.48 203.2,1020.68 204.68,1017.84 206.16,1014.94 207.64,1011.96 209.11,1008.9 210.59,1005.75 212.07,1002.49 213.54,999.11 215.02,995.6 216.5,991.95 217.98,988.14 219.45,984.16 220.93,980 222.41,975.65 223.89,971.09 225.36,966.32 226.84,961.32 228.32,956.08 229.79,950.61 231.27,944.97 232.75,939.22 234.23,933.4 235.7,927.57 237.18,921.79 238.66,916.12 240.14,910.61 241.61,905.31 243.09,900.22 244.57,895.33 246.04,890.65 247.52,886.17 249,881.88 250.48,877.77 251.95,873.85 253.43,870.1 254.91,866.55 256.39,863.19 257.86,860.04 259.34,857.1 260.82,854.38 262.29,851.9 263.77,849.7 265.25,847.8 266.73,846.2 268.2,844.86 269.68,843.76 271.16,842.88 272.64,842.19 274.11,841.67 275.59,841.29 277.07,841.03 278.54,840.86 280.02,840.76 281.5,840.71 282.98,840.67 284.45,840.64 285.93,840.59 287.41,840.49 288.88,840.32 290.36,840.06 291.84,839.68 293.32,839.22 294.79,838.72 296.27,838.26 297.75,837.89 299.23,837.68 300.7,837.68 302.18,837.96 303.66,838.58 305.13,839.6 306.61,841.03 308.09,842.84 309.57,844.99 311.04,847.43 312.52,850.13 314,853.06 315.48,856.15 316.95,859.39 318.43,862.75 319.91,866.21 321.38,869.74 322.86,873.31 324.34,876.92 325.82,880.52 327.29,884.11 328.77,887.65 330.25,891.12 331.73,894.51 333.2,897.81 334.68,901.02 336.16,904.16 337.63,907.23 339.11,910.23 340.59,913.18 342.07,916.08 343.54,918.94 345.02,921.76 346.5,924.55 347.98,927.32 349.45,930.07 350.93,932.82 352.41,935.56 353.88,938.3 355.36,941.03 356.84,943.76 358.32,946.48 359.79,949.19 361.27,951.88 362.75,954.56 364.23,957.22 365.7,959.86 367.18,962.47 368.66,965.06 370.13,967.62 371.61,970.15 373.09,972.65 374.57,975.11 376.04,977.55 377.52,979.94 379,982.31 380.47,984.64 381.95,986.94 383.43,989.2 384.91,991.43 386.38,993.63 387.86,995.79 389.34,997.91 390.82,1000 392.29,1002.06 393.77,1004.08 395.25,1006.06 396.72,1008.01 398.2,1009.92 399.68,1011.8 401.16,1013.64 402.63,1015.45 404.11,1017.22 405.59,1018.95 407.07,1020.64 408.54,1022.3 410.02,1023.92 411.5,1025.51 412.97,1027.05 414.45,1028.56 415.93,1030.03 417.41,1031.46 418.88,1032.86 420.36,1034.22 421.84,1035.53 423.32,1036.81 424.79,1038.05 426.27,1039.25 427.75,1040.42 429.22,1041.54 430.7,1042.62 432.18,1043.66 433.66,1044.67 435.13,1045.63 436.61,1046.56 438.09,1047.44 439.57,1048.28 441.04,1049.08 442.52,1049.84 444,1050.56 445.47,1051.24 446.95,1051.88 448.43,1052.49 449.91,1053.05 451.38,1053.58 452.86,1054.08 454.34,1054.55 455.82,1054.98 457.29,1055.39 458.77,1055.77 460.25,1056.12 461.72,1056.45 463.2,1056.75 464.68,1057.04 466.16,1057.3 467.63,1057.54 469.11,1057.77 470.59,1057.98 472.06,1058.18 473.54,1058.36 475.02,1058.53 476.5,1058.7 477.97,1058.85 479.45,1059 480.93,1059.14 482.41,1059.27 483.88,1059.41 485.36,1059.54 486.84,1059.67 488.31,1059.81 489.79,1059.94 491.27,1060.08 492.75,1060.23 494.22,1060.38 495.7,1060.53 497.18,1060.69 498.66,1060.84 500.13,1061.01 501.61,1061.17 503.09,1061.33 504.56,1061.5 506.04,1061.67 507.52,1061.84 509,1062.01 510.47,1062.18 511.95,1062.36 513.43,1062.53 514.91,1062.7 516.38,1062.87 517.86,1063.04 519.34,1063.22 520.81,1063.39 522.29,1063.55 523.77,1063.72 525.25,1063.88 526.72,1064.05 528.2,1064.21 529.68,1064.37 531.16,1064.52 532.63,1064.67 534.11,1064.8 535.59,1064.8 537.06,1064.8 538.54,1064.8 540.02,1064.8 541.5,1064.8 542.97,1064.8 544.45,1064.8 545.93,1064.8 547.41,1064.8 548.88,1064.8 550.36,1064.8 551.84,1064.8 553.31,1064.8 554.79,1064.8 556.27,1064.8 557.75,1064.8 559.22,1064.8 560.7,1064.8 562.18,1064.8 563.65,1064.8 565.13,1064.8 566.61,1064.8 568.09,1064.8 569.56,1064.8 571.04,1064.8 572.52,1064.8 574,1064.8 575.47,1064.8 576.95,1064.8 578.43,1064.8 579.9,1064.8 581.38,1064.8 582.86,1064.8 584.34,1064.8 585.81,1064.8 587.29,1064.8 588.77,1064.8 590.25,1064.8 591.72,1064.8 593.2,1064.8" fill="none" stroke="#d55e00" stroke-width="2.3" stroke-linejoin="round"/>
<polyline points="151.5,1036.26 152.98,1036.97 154.45,1037.65 155.93,1038.28 157.41,1038.85 158.89,1039.37 160.36,1039.82 161.84,1040.2 163.32,1040.49 164.8,1040.7 166.27,1040.81 167.75,1040.82 169.23,1040.72 170.7,1040.5 172.18,1040.16 173.66,1039.68 175.14,1039.07 176.61,1038.31 178.09,1037.39 179.57,1036.32 181.05,1035.08 182.52,1033.66 184,1032.06 185.48,1030.27 186.95,1028.29 188.43,1026.1 189.91,1023.72 191.39,1021.16 192.86,1018.43 194.34,1015.54 195.82,1012.51 197.29,1009.35 198.77,1006.07 200.25,1002.68 201.73,999.2 203.2,995.64 204.68,992.01 206.16,988.32 207.64,984.59 209.11,980.82 210.59,977.04 212.07,973.25 213.54,969.47 215.02,965.7 216.5,961.96 217.98,958.26 219.45,954.59 220.93,950.96 222.41,947.38 223.89,943.84 225.36,940.36 226.84,936.93 228.32,933.55 229.79,930.24 231.27,926.99 232.75,923.8 234.23,920.69 235.7,917.66 237.18,914.7 238.66,911.82 240.14,909.03 241.61,906.33 243.09,903.72 244.57,901.2 246.04,898.78 247.52,896.47 249,894.26 250.48,892.15 251.95,890.14 253.43,888.23 254.91,886.41 256.39,884.69 257.86,883.06 259.34,881.51 260.82,880.05 262.29,878.68 263.77,877.38 265.25,876.16 266.73,875.01 268.2,873.93 269.68,872.93 271.16,871.99 272.64,871.11 274.11,870.3 275.59,869.54 277.07,868.84 278.54,868.2 280.02,867.6 281.5,867.07 282.98,866.63 284.45,866.3 285.93,866.09 287.41,866.04 288.88,866.15 290.36,866.46 291.84,866.98 293.32,867.73 294.79,868.72 296.27,869.91 297.75,871.29 299.23,872.83 300.7,874.5 302.18,876.28 303.66,878.14 305.13,880.06 306.61,882.02 308.09,883.99 309.57,885.98 311.04,887.98 312.52,890 314,892.02 315.48,894.06 316.95,896.11 318.43,898.17 319.91,900.23 321.38,902.3 322.86,904.37 324.34,906.45 325.82,908.53 327.29,910.61 328.77,912.69 330.25,914.77 331.73,916.85 333.2,918.92 334.68,920.99 336.16,923.05 337.63,925.11 339.11,927.16 340.59,929.2 342.07,931.22 343.54,933.24 345.02,935.24 346.5,937.23 347.98,939.21 349.45,941.17 350.93,943.12 352.41,945.06 353.88,946.98 355.36,948.9 356.84,950.8 358.32,952.69 359.79,954.57 361.27,956.44 362.75,958.3 364.23,960.15 365.7,961.99 367.18,963.81 368.66,965.63 370.13,967.44 371.61,969.25 373.09,971.04 374.57,972.83 376.04,974.6 377.52,976.37 379,978.14 380.47,979.89 381.95,981.64 383.43,983.38 384.91,985.12 386.38,986.85 387.86,988.58 389.34,990.29 390.82,992 392.29,993.7 393.77,995.39 395.25,997.07 396.72,998.74 398.2,1000.39 399.68,1002.03 401.16,1003.65 402.63,1005.26 404.11,1006.84 405.59,1008.41 407.07,1009.97 408.54,1011.5 410.02,1013.01 411.5,1014.49 412.97,1015.96 414.45,1017.4 415.93,1018.81 417.41,1020.2 418.88,1021.56 420.36,1022.89 421.84,1024.19 423.32,1025.46 424.79,1026.7 426.27,1027.91 427.75,1029.08 429.22,1030.22 430.7,1031.32 432.18,1032.39 433.66,1033.43 435.13,1034.43 436.61,1035.39 438.09,1036.33 439.57,1037.24 441.04,1038.11 442.52,1038.96 444,1039.78 445.47,1040.57 446.95,1041.34 448.43,1042.08 449.91,1042.79 451.38,1043.48 452.86,1044.15 454.34,1044.8 455.82,1045.43 457.29,1046.04 458.77,1046.62 460.25,1047.19 461.72,1047.75 463.2,1048.28 464.68,1048.8 466.16,1049.31 467.63,1049.8 469.11,1050.28 470.59,1050.75 472.06,1051.21 473.54,1051.65 475.02,1052.09 476.5,1052.51 477.97,1052.93 479.45,1053.33 480.93,1053.73 482.41,1054.12 483.88,1054.49 485.36,1054.86 486.84,1055.22 488.31,1055.56 489.79,1055.9 491.27,1056.23 492.75,1056.55 494.22,1056.86 495.7,1057.17 497.18,1057.46 498.66,1057.75 500.13,1058.03 501.61,1058.3 503.09,1058.56 504.56,1058.81 506.04,1059.06 507.52,1059.3 509,1059.53 510.47,1059.75 511.95,1059.97 513.43,1060.18 514.91,1060.38 516.38,1060.57 517.86,1060.76 519.34,1060.94 520.81,1061.12 522.29,1061.29 523.77,1061.45 525.25,1061.6 526.72,1061.75 528.2,1061.9 529.68,1062.04 531.16,1062.17 532.63,1062.3 534.11,1062.42 535.59,1062.53 537.06,1062.64 538.54,1062.75 540.02,1062.85 541.5,1062.95 542.97,1063.04 544.45,1063.12 545.93,1063.21 547.41,1063.28 548.88,1063.36 550.36,1063.43 551.84,1063.49 553.31,1063.55 554.79,1063.61 556.27,1063.67 557.75,1063.72 559.22,1063.76 560.7,1063.81 562.18,1063.85 563.65,1063.89 565.13,1063.92 566.61,1063.96 568.09,1063.99 569.56,1064.01 571.04,1064.04 572.52,1064.06 574,1064.08 575.47,1064.1 576.95,1064.12 578.43,1064.13 579.9,1064.15 581.38,1064.16 582.86,1064.17 584.34,1064.18 585.81,1064.19 587.29,1064.19 588.77,1064.2 590.25,1064.2 591.72,1064.21 593.2,1064.21" fill="none" stroke="#cc79a7" stroke-width="2.3" stroke-linejoin="round"/>
<polyline points="151.5,1023.32 152.98,1022.91 154.45,1022.43 155.93,1021.89 157.41,1021.28 158.89,1020.61 160.36,1019.86 161.84,1019.04 163.32,1018.15 164.8,1017.19 166.27,1016.14 167.75,1015.02 169.23,1013.82 170.7,1012.53 172.18,1011.16 173.66,1009.7 175.14,1008.16 176.61,1006.52 178.09,1004.8 179.57,1002.98 181.05,1001.07 182.52,999.09 184,997.03 185.48,994.91 186.95,992.73 188.43,990.5 189.91,988.22 191.39,985.9 192.86,983.55 194.34,981.18 195.82,978.78 197.29,976.37 198.77,973.96 200.25,971.54 201.73,969.14 203.2,966.74 204.68,964.37 206.16,962.03 207.64,959.71 209.11,957.43 210.59,955.19 212.07,952.98 213.54,950.82 215.02,948.69 216.5,946.62 217.98,944.59 219.45,942.6 220.93,940.67 222.41,938.8 223.89,936.97 225.36,935.21 226.84,933.5 228.32,931.86 229.79,930.28 231.27,928.77 232.75,927.32 234.23,925.93 235.7,924.6 237.18,923.32 238.66,922.1 240.14,920.91 241.61,919.77 243.09,918.67 244.57,917.61 246.04,916.57 247.52,915.56 249,914.58 250.48,913.62 251.95,912.68 253.43,911.78 254.91,910.91 256.39,910.07 257.86,909.26 259.34,908.49 260.82,907.76 262.29,907.07 263.77,906.42 265.25,905.81 266.73,905.25 268.2,904.74 269.68,904.27 271.16,903.86 272.64,903.5 274.11,903.2 275.59,902.95 277.07,902.76 278.54,902.63 280.02,902.56 281.5,902.56 282.98,902.62 284.45,902.75 285.93,902.95 287.41,903.23 288.88,903.57 290.36,903.99 291.84,904.49 293.32,905.07 294.79,905.72 296.27,906.45 297.75,907.26 299.23,908.13 300.7,909.08 302.18,910.08 303.66,911.16 305.13,912.29 306.61,913.47 308.09,914.72 309.57,916.01 311.04,917.36 312.52,918.75 314,920.19 315.48,921.66 316.95,923.18 318.43,924.73 319.91,926.31 321.38,927.91 322.86,929.52 324.34,931.14 325.82,932.75 327.29,934.36 328.77,935.94 330.25,937.5 331.73,939.03 333.2,940.52 334.68,941.98 336.16,943.41 337.63,944.82 339.11,946.19 340.59,947.55 342.07,948.89 343.54,950.2 345.02,951.5 346.5,952.79 347.98,954.06 349.45,955.33 350.93,956.58 352.41,957.83 353.88,959.08 355.36,960.33 356.84,961.58 358.32,962.83 359.79,964.09 361.27,965.36 362.75,966.64 364.23,967.93 365.7,969.23 367.18,970.56 368.66,971.9 370.13,973.26 371.61,974.65 373.09,976.06 374.57,977.49 376.04,978.95 377.52,980.42 379,981.9 380.47,983.38 381.95,984.87 383.43,986.35 384.91,987.83 386.38,989.3 387.86,990.75 389.34,992.19 390.82,993.6 392.29,995 393.77,996.38 395.25,997.74 396.72,999.08 398.2,1000.4 399.68,1001.7 401.16,1002.98 402.63,1004.25 404.11,1005.5 405.59,1006.72 407.07,1007.93 408.54,1009.12 410.02,1010.3 411.5,1011.45 412.97,1012.58 414.45,1013.7 415.93,1014.8 417.41,1015.88 418.88,1016.94 420.36,1017.98 421.84,1019 423.32,1020.01 424.79,1021 426.27,1021.97 427.75,1022.92 429.22,1023.86 430.7,1024.77 432.18,1025.68 433.66,1026.56 435.13,1027.43 436.61,1028.28 438.09,1029.12 439.57,1029.94 441.04,1030.75 442.52,1031.54 444,1032.31 445.47,1033.07 446.95,1033.82 448.43,1034.55 449.91,1035.26 451.38,1035.96 452.86,1036.65 454.34,1037.32 455.82,1037.98 457.29,1038.63 458.77,1039.26 460.25,1039.88 461.72,1040.48 463.2,1041.07 464.68,1041.65 466.16,1042.22 467.63,1042.77 469.11,1043.32 470.59,1043.85 472.06,1044.36 473.54,1044.87 475.02,1045.37 476.5,1045.85 477.97,1046.32 479.45,1046.78 480.93,1047.23 482.41,1047.68 483.88,1048.11 485.36,1048.53 486.84,1048.94 488.31,1049.34 489.79,1049.73 491.27,1050.11 492.75,1050.48 494.22,1050.84 495.7,1051.19 497.18,1051.54 498.66,1051.88 500.13,1052.2 501.61,1052.52 503.09,1052.84 504.56,1053.14 506.04,1053.44 507.52,1053.73 509,1054.01 510.47,1054.28 511.95,1054.55 513.43,1054.81 514.91,1055.07 516.38,1055.31 517.86,1055.56 519.34,1055.79 520.81,1056.02 522.29,1056.25 523.77,1056.47 525.25,1056.68 526.72,1056.89 528.2,1057.09 529.68,1057.29 531.16,1057.49 532.63,1057.68 534.11,1057.86 535.59,1058.04 537.06,1058.22 538.54,1058.4 540.02,1058.57 541.5,1058.74 542.97,1058.9 544.45,1059.07 545.93,1059.23 547.41,1059.38 548.88,1059.54 550.36,1059.69 551.84,1059.84 553.31,1059.99 554.79,1060.14 556.27,1060.28 557.75,1060.43 559.22,1060.57 560.7,1060.71 562.18,1060.86 563.65,1061 565.13,1061.14 566.61,1061.28 568.09,1061.42 569.56,1061.56 571.04,1061.71 572.52,1061.85 574,1061.99 575.47,1062.14 576.95,1062.28 578.43,1062.43 579.9,1062.58 581.38,1062.73 582.86,1062.88 584.34,1063.03 585.81,1063.19 587.29,1063.35 588.77,1063.51 590.25,1063.67 591.72,1063.84 593.2,1064.01" fill="none" stroke="#f0e442" stroke-width="2.3" stroke-linejoin="round"/>
<polyline points="151,1065.2 151,710.7 593.6,710.7" fill="none" stroke="#383838" stroke-width="1.8"/>
<polyline points="593.6,710 593.6,1065.2 150.2,1065.2" fill="none" stroke="#0a0a0a" stroke-width="1.6"/>
<rect x="422.8" y="739.8" width="65.5" height="22.2" fill="#99c7e0"/>
<text transform="translate(497.36,762.5) scale(1,1.0)" font-size="32.6">113</text>
<rect x="422.8" y="785.2" width="65.5" height="22.2" fill="#99d8c7"/>
<text transform="translate(498.17,807.9) scale(1,1.0)" font-size="32.6">65</text>
<rect x="422.8" y="830.2" width="65.5" height="22.2" fill="#eebf99"/>
<text transform="translate(498.5,852.9) scale(1,1.0)" font-size="32.6">32</text>
<rect x="422.8" y="875" width="65.5" height="22.2" fill="#ebc9dc"/>
<text transform="translate(497.36,897.7) scale(1,1.0)" font-size="32.6">16</text>
<rect x="422.8" y="920.4" width="65.5" height="22.2" fill="#f9f4b3"/>
<text transform="translate(498.33,943.1) scale(1,1.0)" font-size="32.6">8</text>
<text transform="translate(58.88,719.4) scale(1,1.04)" font-size="32.0">0.008</text>
<text transform="translate(59.04,808) scale(1,1.04)" font-size="32.0">0.006</text>
<text transform="translate(58.56,896.6) scale(1,1.04)" font-size="32.0">0.004</text>
<text transform="translate(59.2,985.2) scale(1,1.04)" font-size="32.0">0.002</text>
<text transform="translate(58.88,1073.8) scale(1,1.04)" font-size="32.0">0.000</text>
<text transform="translate(142.04,1101.6) scale(1,1.035)" font-size="32.30" fill="#000">0</text>
<text transform="translate(234.2,1101.6) scale(1,1.035)" font-size="32.30" fill="#000">150</text>
<text transform="translate(345.42,1101.6) scale(1,1.035)" font-size="32.30" fill="#000">300</text>
<text transform="translate(456.32,1101.6) scale(1,1.035)" font-size="32.30" fill="#000">450</text>
<text transform="translate(566.57,1101.6) scale(1,1.035)" font-size="32.30" fill="#000">600</text>
<text transform="translate(288.37,1147.1) scale(1,0.989)" font-size="38.68" fill="#000">Coverage</text>
<text transform="translate(27,949) rotate(-90) scale(1,1.019)" x="-3.02" font-size="37.69">Density</text>
<text transform="translate(711.89,709.8) scale(1,1.000)" font-size="42.80" font-weight="bold" fill="#000">d</text>
<rect x="820.4" y="754" width="420.8" height="315.5" fill="#eaeaf2"/>
<line x1="890.3" y1="754" x2="890.3" y2="1069.5" stroke="#fff" stroke-width="1.8"/>
<line x1="960.5" y1="754" x2="960.5" y2="1069.5" stroke="#fff" stroke-width="1.8"/>
<line x1="1030.7" y1="754" x2="1030.7" y2="1069.5" stroke="#fff" stroke-width="1.8"/>
<line x1="1100.9" y1="754" x2="1100.9" y2="1069.5" stroke="#fff" stroke-width="1.8"/>
<line x1="1171.1" y1="754" x2="1171.1" y2="1069.5" stroke="#fff" stroke-width="1.8"/>
<line x1="820.4" y1="858.9" x2="1241.2" y2="858.9" stroke="#fff" stroke-width="1.8"/>
<line x1="820.4" y1="964.6" x2="1241.2" y2="964.6" stroke="#fff" stroke-width="1.8"/>
<polyline points="848.2,874.5 876.3,950.1 932.4,993.7 1048.3,1016.8 1216.7,1027.4" fill="none" stroke="#55a868" stroke-width="2.3"/>
<polyline points="848.2,807.7 876.3,902.5 932.4,970.6 1048.3,997 1216.7,1017.5" fill="none" stroke="#4c72b0" stroke-width="2.3"/>
<line x1="848.2" y1="793" x2="848.2" y2="812" stroke="#4c72b0" stroke-width="2.3"/>
<line x1="876.3" y1="897.9" x2="876.3" y2="907.8" stroke="#4c72b0" stroke-width="2.3"/>
<line x1="932.4" y1="966.3" x2="932.4" y2="976.2" stroke="#4c72b0" stroke-width="2.3"/>
<line x1="1048.3" y1="994.4" x2="1048.3" y2="1000" stroke="#4c72b0" stroke-width="2.3"/>
<line x1="1216.7" y1="1013.5" x2="1216.7" y2="1021.5" stroke="#4c72b0" stroke-width="2.3"/>
<line x1="1039.6" y1="801.1" x2="1117.2" y2="801.1" stroke="#4c72b0" stroke-width="2.3"/>
<line x1="1078.3" y1="783" x2="1078.3" y2="820" stroke="#4c72b0" stroke-width="2.3"/>
<line x1="1039.6" y1="855" x2="1117.2" y2="855" stroke="#55a868" stroke-width="2.3"/>
<line x1="1078.3" y1="836.5" x2="1078.3" y2="873.8" stroke="#55a868" stroke-width="2.3"/>
<text transform="translate(1126.37,810.4) scale(1,0.992)" font-size="30.38" fill="#000">Exp</text>
<text transform="translate(1127.44,865.5) scale(1,1.032)" font-size="30.19" fill="#000">Sim</text>
<text transform="translate(960.23,741.97) scale(1,1.076)" font-size="32.42" font-style="italic">R</text>
<text transform="translate(985.14,729.23) scale(1,0.919)" font-size="27.25">2</text>
<text transform="translate(1008.19,742.7) scale(1,0.827)" font-size="36.29">=</text>
<text transform="translate(1037.67,742.53) scale(1,1.131)" font-size="30.86">0.71</text>
<text transform="translate(756.65,764.4) scale(1,1.03)" font-size="38.4">0.6</text>
<text transform="translate(756.46,869.57) scale(1,1.03)" font-size="38.4">0.5</text>
<text transform="translate(756.08,974.74) scale(1,1.03)" font-size="38.4">0.4</text>
<text transform="translate(756.65,1079.91) scale(1,1.03)" font-size="38.4">0.3</text>
<text transform="translate(809.44,1109.9) scale(1,1.027)" font-size="38.40" fill="#000">0</text>
<text transform="translate(868.8,1109.9) scale(1,1.027)" font-size="38.40" fill="#000">20</text>
<text transform="translate(939.48,1109.9) scale(1,1.027)" font-size="38.40" fill="#000">40</text>
<text transform="translate(1009.2,1109.9) scale(1,1.027)" font-size="38.40" fill="#000">60</text>
<text transform="translate(1079.49,1109.9) scale(1,1.027)" font-size="38.40" fill="#000">80</text>
<text transform="translate(1138.46,1109.9) scale(1,1.027)" font-size="38.40" fill="#000">100</text>
<text transform="translate(1208.66,1109.9) scale(1,1.027)" font-size="38.40" fill="#000">120</text>
<text transform="translate(919.97,1156.1) scale(1,0.956)" font-size="36.55" fill="#000">Copy number</text>
<text transform="translate(734.5,941.4) rotate(-90) scale(1,0.963)" x="-1.65" font-size="33.10">C.V.</text>
</svg></body></html>
